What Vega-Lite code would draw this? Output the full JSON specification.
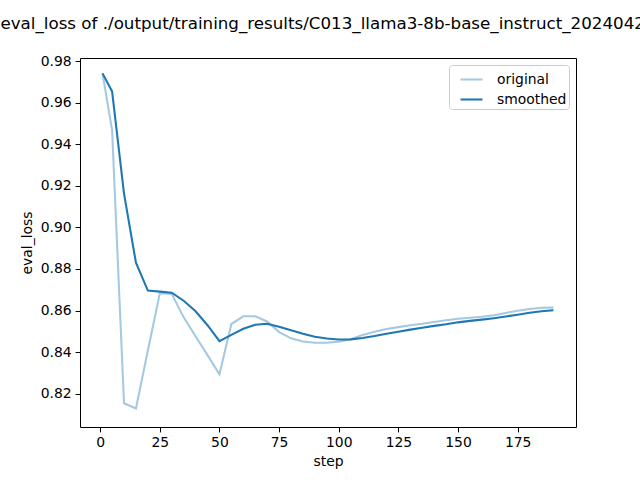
{
  "$schema": "https://vega.github.io/schema/vega-lite/v6.json",
  "autosize": {"type": "none"},
  "width": 496,
  "height": 369,
  "padding": {"left": 80, "top": 58, "right": 64, "bottom": 53},
  "background": "white",
  "title": {
    "text": "eval_loss of ./output/training_results/C013_llama3-8b-base_instruct_20240428",
    "font": "DejaVu Sans",
    "fontSize": 16.7,
    "fontWeight": "normal",
    "color": "black",
    "anchor": "middle",
    "frame": "group",
    "baseline": "alphabetic",
    "offset": 9
  },
  "data": {
    "values": [
      {"step": 1, "series": "original", "value": 0.9742},
      {"step": 5, "series": "original", "value": 0.9469},
      {"step": 10, "series": "original", "value": 0.8153},
      {"step": 15, "series": "original", "value": 0.8128},
      {"step": 20, "series": "original", "value": 0.8407},
      {"step": 25, "series": "original", "value": 0.8683},
      {"step": 30, "series": "original", "value": 0.868},
      {"step": 35, "series": "original", "value": 0.8567},
      {"step": 40, "series": "original", "value": 0.8476},
      {"step": 45, "series": "original", "value": 0.8385},
      {"step": 50, "series": "original", "value": 0.8293},
      {"step": 55, "series": "original", "value": 0.8535},
      {"step": 60, "series": "original", "value": 0.8572},
      {"step": 65, "series": "original", "value": 0.8572},
      {"step": 70, "series": "original", "value": 0.8547},
      {"step": 75, "series": "original", "value": 0.8496},
      {"step": 80, "series": "original", "value": 0.8466},
      {"step": 85, "series": "original", "value": 0.8451},
      {"step": 90, "series": "original", "value": 0.8445},
      {"step": 95, "series": "original", "value": 0.8445},
      {"step": 100, "series": "original", "value": 0.845},
      {"step": 105, "series": "original", "value": 0.8462},
      {"step": 110, "series": "original", "value": 0.8482},
      {"step": 115, "series": "original", "value": 0.8498},
      {"step": 120, "series": "original", "value": 0.8511},
      {"step": 125, "series": "original", "value": 0.852},
      {"step": 130, "series": "original", "value": 0.8529},
      {"step": 135, "series": "original", "value": 0.8536},
      {"step": 140, "series": "original", "value": 0.8545},
      {"step": 145, "series": "original", "value": 0.8553},
      {"step": 150, "series": "original", "value": 0.856},
      {"step": 155, "series": "original", "value": 0.8565},
      {"step": 160, "series": "original", "value": 0.857},
      {"step": 165, "series": "original", "value": 0.8577},
      {"step": 170, "series": "original", "value": 0.8588},
      {"step": 175, "series": "original", "value": 0.8599},
      {"step": 180, "series": "original", "value": 0.8607},
      {"step": 185, "series": "original", "value": 0.8613},
      {"step": 190, "series": "original", "value": 0.8614},
      {"step": 1, "series": "smoothed", "value": 0.9742},
      {"step": 5, "series": "smoothed", "value": 0.9655},
      {"step": 10, "series": "smoothed", "value": 0.9163},
      {"step": 15, "series": "smoothed", "value": 0.883},
      {"step": 20, "series": "smoothed", "value": 0.8696},
      {"step": 25, "series": "smoothed", "value": 0.8691},
      {"step": 30, "series": "smoothed", "value": 0.8686},
      {"step": 35, "series": "smoothed", "value": 0.8647},
      {"step": 40, "series": "smoothed", "value": 0.8596},
      {"step": 45, "series": "smoothed", "value": 0.8529},
      {"step": 50, "series": "smoothed", "value": 0.8452},
      {"step": 55, "series": "smoothed", "value": 0.8483},
      {"step": 60, "series": "smoothed", "value": 0.8512},
      {"step": 65, "series": "smoothed", "value": 0.8531},
      {"step": 70, "series": "smoothed", "value": 0.8536},
      {"step": 75, "series": "smoothed", "value": 0.8522},
      {"step": 80, "series": "smoothed", "value": 0.8505},
      {"step": 85, "series": "smoothed", "value": 0.8488},
      {"step": 90, "series": "smoothed", "value": 0.8474},
      {"step": 95, "series": "smoothed", "value": 0.8465},
      {"step": 100, "series": "smoothed", "value": 0.846},
      {"step": 105, "series": "smoothed", "value": 0.8461},
      {"step": 110, "series": "smoothed", "value": 0.8468},
      {"step": 115, "series": "smoothed", "value": 0.8477},
      {"step": 120, "series": "smoothed", "value": 0.8488},
      {"step": 125, "series": "smoothed", "value": 0.8498},
      {"step": 130, "series": "smoothed", "value": 0.8508},
      {"step": 135, "series": "smoothed", "value": 0.8517},
      {"step": 140, "series": "smoothed", "value": 0.8526},
      {"step": 145, "series": "smoothed", "value": 0.8534},
      {"step": 150, "series": "smoothed", "value": 0.8543},
      {"step": 155, "series": "smoothed", "value": 0.855},
      {"step": 160, "series": "smoothed", "value": 0.8556},
      {"step": 165, "series": "smoothed", "value": 0.8563},
      {"step": 170, "series": "smoothed", "value": 0.8571},
      {"step": 175, "series": "smoothed", "value": 0.858},
      {"step": 180, "series": "smoothed", "value": 0.8589},
      {"step": 185, "series": "smoothed", "value": 0.8596},
      {"step": 190, "series": "smoothed", "value": 0.8601}
    ]
  },
  "mark": {"type": "line", "strokeWidth": 2.08, "clip": true},
  "encoding": {
    "x": {
      "field": "step",
      "type": "quantitative",
      "title": "step",
      "scale": {"domain": [-8.45, 199.45], "nice": false, "zero": false},
      "axis": {"values": [0, 25, 50, 75, 100, 125, 150, 175], "format": "d"}
    },
    "y": {
      "field": "value",
      "type": "quantitative",
      "title": "eval_loss",
      "scale": {"domain": [0.8039, 0.9816], "nice": false, "zero": false},
      "axis": {"values": [0.82, 0.84, 0.86, 0.88, 0.9, 0.92, 0.94, 0.96, 0.98], "format": ".2f"}
    },
    "color": {
      "field": "series",
      "type": "nominal",
      "scale": {"domain": ["original", "smoothed"], "range": ["#a5c9e1", "#1f77b4"]},
      "legend": {"title": null}
    },
    "order": {"field": "step"}
  },
  "config": {
    "view": {"stroke": "black", "strokeWidth": 1},
    "axis": {
      "domain": false,
      "grid": false,
      "tickColor": "black",
      "tickSize": 4.9,
      "tickWidth": 1,
      "labelPadding": 4,
      "labelFont": "DejaVu Sans",
      "labelFontSize": 13.9,
      "labelColor": "black",
      "titleFont": "DejaVu Sans",
      "titleFontSize": 13.9,
      "titleFontWeight": "normal",
      "titleColor": "black"
    },
    "axisX": {"titlePadding": 5},
    "axisY": {"titlePadding": 6},
    "legend": {
      "orient": "top-right",
      "offset": 7,
      "padding": 2,
      "strokeColor": "#cccccc",
      "fillColor": "rgba(255,255,255,0.8)",
      "cornerRadius": 3,
      "symbolType": "stroke",
      "symbolSize": 484,
      "symbolOffset": 8,
      "symbolStrokeWidth": 2.08,
      "labelFont": "DejaVu Sans",
      "labelFontSize": 13.9,
      "labelColor": "black",
      "labelOffset": 13,
      "rowPadding": 0
    }
  }
}
